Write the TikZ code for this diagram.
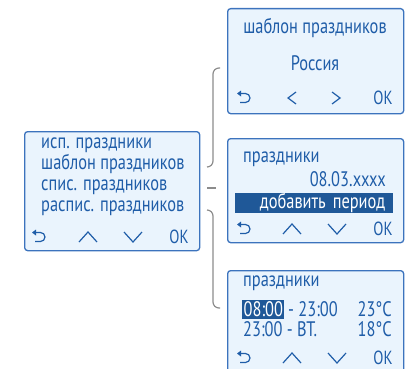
\documentclass[tikz,border=0pt]{standalone}
\usepackage{fontspec}
\usetikzlibrary{positioning,calc}
\newfontfamily\lcdfont[FakeStretch=0.78]{PT Sans}
\definecolor{scrfill}{HTML}{EAF4FD}
\definecolor{scrline}{HTML}{3C73BD}
\definecolor{scrtext}{HTML}{1F5DA8}
\definecolor{scrmark}{HTML}{1F5898}
\definecolor{forkgrey}{HTML}{8C8C8C}
% key row of a screen: #1 = x, #2 = y
\newcommand{\backkey}[2]{%
  \draw[keyline, rounded corners=4.5pt] (#1-6,#2-4.5) -- (#1+5,#2-4.5) -- (#1+5,#2+4.5) -- (#1-5,#2+4.5);
  \fill[scrtext] (#1-8,#2-4.5) -- (#1-4,#2-7.5) -- (#1-4,#2-1.5) -- cycle;}
\newcommand{\upkey}[2]{\draw[keyline] (#1-9,#2+5) -- (#1,#2-5) -- (#1+9,#2+5);}
\newcommand{\downkey}[2]{\draw[keyline] (#1-9,#2-5) -- (#1,#2+5) -- (#1+9,#2-5);}
\newcommand{\leftkey}[2]{\draw[keyline] (#1+4,#2-6) -- (#1-4,#2) -- (#1+4,#2+6);}
\newcommand{\rightkey}[2]{\draw[keyline] (#1-4,#2-6) -- (#1+4,#2) -- (#1-4,#2+6);}

\begin{document}
\begin{tikzpicture}[x=1pt,y=-1pt,
		screen/.style={draw=scrline,fill=scrfill,line width=1.3pt,rounded corners=3pt,
			anchor=north west,inner sep=0pt},
		scrtxt/.style={text=scrtext,inner sep=0pt,font=\lcdfont\fontsize{21}{22}\selectfont},
		marktxt/.style={scrtxt,text=white,fill=scrmark},
		okkey/.style={scrtxt,font=\lcdfont\fontsize{19}{20}\selectfont},
		keyline/.style={draw=scrtext,line width=1.2pt},
		fork/.style={draw=forkgrey,line width=1.2pt,rounded corners=6pt}]
		\useasboundingbox (0,0) rectangle (412,369);

		% main menu
		\node[screen,minimum width=175pt,minimum height=119pt] (menu) at (24,131) {};
		\node[scrtxt,anchor=mid west] (m1) at (41,146) {исп. праздники};
		\node[scrtxt,anchor=mid west] (m2) at (41,167.5) {шаблон праздников};
		\node[scrtxt,anchor=mid west] (m3) at (41,188.5) {спис. праздников};
		\node[scrtxt,anchor=mid west] (m4) at (41,209.5) {распис. праздников};
		\backkey{40}{237}
		\upkey{88}{237}
		\downkey{133}{237}
		\node[okkey] (mok) at (179,237) {OK};

		% template
		\node[screen,minimum width=176pt,minimum height=105pt] (tpl) at (227,8) {};
		\node[scrtxt,anchor=mid] (t1) at (315,31.5) {шаблон праздников};
		\node[scrtxt,anchor=mid] (t2) at (315,68) {Россия};
		\backkey{245}{98}
		\leftkey{292}{98}
		\rightkey{336}{98}
		\node[okkey] (tok) at (383,98) {OK};

		% holiday list
		\node[screen,minimum width=176pt,minimum height=104pt] (days) at (227,138) {};
		\node[scrtxt,anchor=mid west] (d1) at (243,160) {праздники};
		\node[scrtxt,anchor=mid east] (d2) at (386,184) {08.03.xxxx};
		\node[marktxt,anchor=north west,minimum width=158pt,minimum height=20pt,
			text width=142pt,inner xsep=8pt,align=right] (d3) at (235,193) {добавить период};
		\backkey{245}{229}
		\upkey{292}{229}
		\downkey{337}{229}
		\node[okkey] (dok) at (383,229) {OK};

		% schedule
		\node[screen,minimum width=176pt,minimum height=110pt] (sched) at (227,270) {};
		\node[scrtxt,anchor=mid west] (s1) at (243,284) {праздники};
		\node[marktxt,anchor=base west,inner xsep=1.5pt,inner ysep=2pt] (s2) at (242,316.7) {08:00};
		\node[scrtxt,anchor=base west] (s3) at (288,316.7) {- 23:00};
		\node[scrtxt,anchor=base east] (s4) at (392,316.7) {23°C};
		\node[scrtxt,anchor=base west] (s5) at (243,336.7) {23:00 - ВТ.};
		\node[scrtxt,anchor=base east] (s6) at (392,336.7) {18°C};
		\backkey{245}{358}
		\upkey{292}{358}
		\downkey{337}{358}
		\node[okkey] (sok) at (383,358) {OK};

		% brackets
		\coordinate (ftop) at (220,68);
		\coordinate (fmid) at (207,188);
		\coordinate (fbot) at (220,308);
		\draw[fork] (ftop) -| (213,167) -- (207,167);
		\draw[fork] (fmid) -- ++(9,0);
		\draw[fork] (207,210) -| (213,308) -- (fbot);
	\end{tikzpicture}
\end{document}
